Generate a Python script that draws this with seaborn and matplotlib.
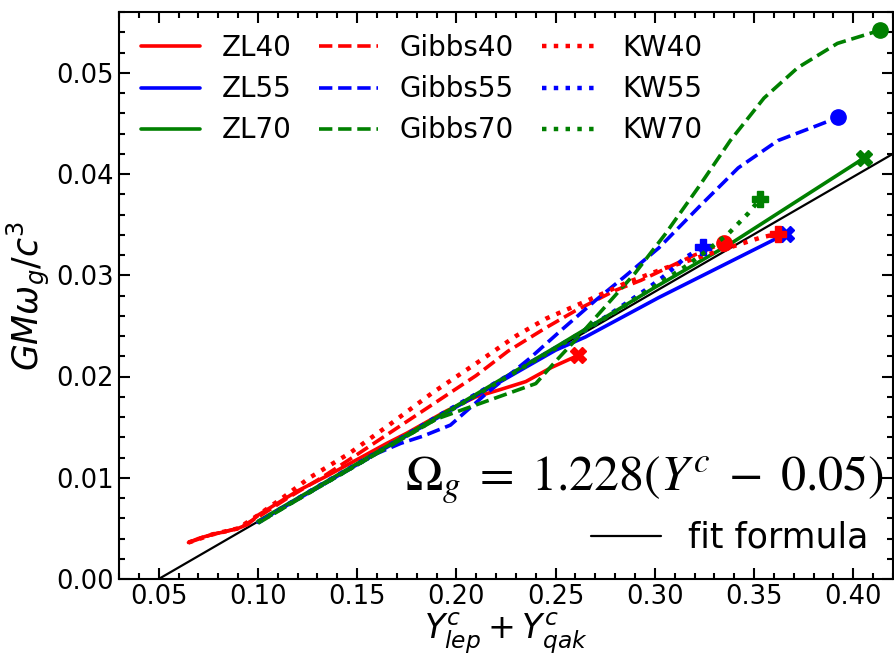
import matplotlib
matplotlib.use("Agg")
import matplotlib.pyplot as plt
import seaborn as sns
from matplotlib.lines import Line2D
from matplotlib.ticker import MultipleLocator, FormatStrFormatter

# ZL curves (solid)
zl40_x = [0.065, 0.070, 0.077, 0.084, 0.090, 0.095, 0.100, 0.110, 0.120, 0.135, 0.150, 0.165, 0.175, 0.195, 0.210, 0.222, 0.235, 0.248, 0.2615]
zl40_y = [0.0036, 0.0040, 0.0044, 0.0047, 0.0050, 0.0054, 0.0063, 0.0075, 0.0087, 0.0102, 0.0118, 0.0134, 0.0144, 0.0166, 0.0180, 0.0187, 0.0195, 0.0209, 0.0221]
zl55_x = [0.100, 0.150, 0.200, 0.250, 0.265, 0.302, 0.366]
zl55_y = [0.0056, 0.0113, 0.0170, 0.0226, 0.0239, 0.0278, 0.0341]
zl70_x = [0.100, 0.150, 0.200, 0.250, 0.300, 0.338, 0.4056]
zl70_y = [0.0057, 0.0114, 0.0171, 0.0229, 0.0288, 0.0331, 0.0416]

# Gibbs curves (dashed)
gibbs40_x = [0.065, 0.077, 0.090, 0.100, 0.115, 0.132, 0.150, 0.170, 0.190, 0.210, 0.226, 0.245, 0.260, 0.280, 0.293, 0.307, 0.320, 0.3348]
gibbs40_y = [0.0036, 0.0044, 0.0050, 0.0061, 0.0080, 0.0100, 0.0123, 0.0149, 0.0175, 0.0201, 0.0225, 0.0248, 0.0265, 0.0285, 0.0295, 0.0308, 0.0320, 0.0332]
gibbs55_x = [0.100, 0.130, 0.160, 0.172, 0.183, 0.197, 0.215, 0.237, 0.253, 0.270, 0.285, 0.302, 0.322, 0.342, 0.362, 0.382, 0.3925]
gibbs55_y = [0.0056, 0.0090, 0.0124, 0.0134, 0.0141, 0.0152, 0.0183, 0.0218, 0.0246, 0.0275, 0.0299, 0.0327, 0.0367, 0.0406, 0.0433, 0.0448, 0.0456]
gibbs70_x = [0.100, 0.130, 0.160, 0.190, 0.220, 0.240, 0.250, 0.260, 0.270, 0.280, 0.290, 0.305, 0.322, 0.338, 0.355, 0.372, 0.392, 0.4136]
gibbs70_y = [0.0055, 0.0090, 0.0124, 0.0158, 0.0179, 0.0193, 0.0215, 0.0236, 0.0258, 0.0280, 0.0302, 0.0340, 0.0387, 0.0433, 0.0475, 0.0505, 0.0529, 0.0542]

# KW curves (dotted)
kw40_x = [0.065, 0.077, 0.090, 0.100, 0.113, 0.126, 0.146, 0.166, 0.188, 0.210, 0.230, 0.245, 0.266, 0.285, 0.305, 0.337, 0.353, 0.3619]
kw40_y = [0.0036, 0.0044, 0.0050, 0.0063, 0.0081, 0.0100, 0.0124, 0.0152, 0.0184, 0.0213, 0.0240, 0.0257, 0.0275, 0.0292, 0.0307, 0.0327, 0.0337, 0.0341]
kw55_x = [0.100, 0.130, 0.160, 0.190, 0.220, 0.250, 0.263, 0.280, 0.295, 0.304, 0.310, 0.315, 0.3242]
kw55_y = [0.0056, 0.0091, 0.0125, 0.0160, 0.0194, 0.0228, 0.0243, 0.0265, 0.0285, 0.0298, 0.0308, 0.0317, 0.0328]
kw70_x = [0.100, 0.150, 0.200, 0.250, 0.280, 0.303, 0.315, 0.326, 0.337, 0.347, 0.3529]
kw70_y = [0.0056, 0.0113, 0.0170, 0.0228, 0.0264, 0.0293, 0.0308, 0.0324, 0.0341, 0.0361, 0.0375]

# fit line
fit_x = [0.05, 0.42]
fit_slope = 0.1135

sns.set_style("ticks")
plt.rcParams["font.family"] = ["DejaVu Sans"]
plt.rcParams["axes.edgecolor"] = "black"
plt.rcParams["xtick.color"] = "black"
plt.rcParams["ytick.color"] = "black"
plt.rcParams["text.color"] = "black"
plt.rcParams["axes.labelcolor"] = "black"

fig = plt.figure(figsize=(8.94, 6.59), dpi=100)
ax = fig.add_axes([119 / 894, 80 / 659, 774 / 894, 567 / 659])

lw = 2.6
series = [
    (zl40_x, zl40_y, "red", "-", "X"),
    (zl55_x, zl55_y, "blue", "-", "X"),
    (zl70_x, zl70_y, "green", "-", "X"),
    (gibbs40_x, gibbs40_y, "red", "--", "o"),
    (gibbs55_x, gibbs55_y, "blue", "--", "o"),
    (gibbs70_x, gibbs70_y, "green", "--", "o"),
    (kw40_x, kw40_y, "red", ":", "P"),
    (kw55_x, kw55_y, "blue", ":", "P"),
    (kw70_x, kw70_y, "green", ":", "P"),
]
labels = ["ZL40", "ZL55", "ZL70", "Gibbs40", "Gibbs55", "Gibbs70", "KW40", "KW55", "KW70"]

fit_y = [fit_slope * (x - 0.05) for x in fit_x]
sns.lineplot(x=fit_x, y=fit_y, ax=ax, color="black", linewidth=1.6, sort=False, estimator=None)

for xs, ys, c, ls, m in series:
    w = 3.2 if ls == ":" else lw
    sns.lineplot(x=xs, y=ys, ax=ax, color=c, linestyle=ls, linewidth=w, sort=False, estimator=None)
    ax.plot(xs[-1], ys[-1], marker=m, color=c, markersize=11, linestyle="none")

ax.set_xlim(0.03, 0.42)
ax.set_ylim(0.0, 0.056)
ax.xaxis.set_major_locator(MultipleLocator(0.05))
ax.xaxis.set_minor_locator(MultipleLocator(0.01))
ax.yaxis.set_major_locator(MultipleLocator(0.01))
ax.yaxis.set_minor_locator(MultipleLocator(0.002))
ax.xaxis.set_major_formatter(FormatStrFormatter("%.2f"))
ax.yaxis.set_major_formatter(FormatStrFormatter("%.2f"))
ax.tick_params(which="both", direction="in", top=True, right=True, width=1.5, colors="black")
ax.tick_params(which="major", length=8, labelsize=18.5)
ax.tick_params(which="minor", length=4)
for s in ax.spines.values():
    s.set_linewidth(1.5)
    s.set_color("black")

ax.set_xlabel(r"$Y^c_{lep}+Y^c_{qak}$", fontsize=24, labelpad=1)
ax.set_ylabel(r"$GM\omega_g/c^3$", fontsize=25, labelpad=3)

handles = [Line2D([], [], color=c, linestyle=ls, linewidth=(3.2 if ls == ":" else lw))
           for _, _, c, ls, _ in series]
leg = ax.legend(handles, labels, ncol=3, loc="upper left", frameon=False,
                fontsize=20, labelspacing=0.47, columnspacing=1.0, handlelength=2.1,
                borderaxespad=0.4)
ax.add_artist(leg)

fit_handle = Line2D([], [], color="black", linewidth=1.6)
ax.legend([fit_handle], ["fit formula"], loc="lower right", frameon=False, fontsize=25,
          borderaxespad=0.3)

ax.text(0.988, 0.157, r"$\Omega_g\;=\;1.228(Y^c\;-\;0.05)$", transform=ax.transAxes,
        ha="right", va="baseline", fontsize=36, math_fontfamily="stix")

fig.savefig("out.png", dpi=100)
